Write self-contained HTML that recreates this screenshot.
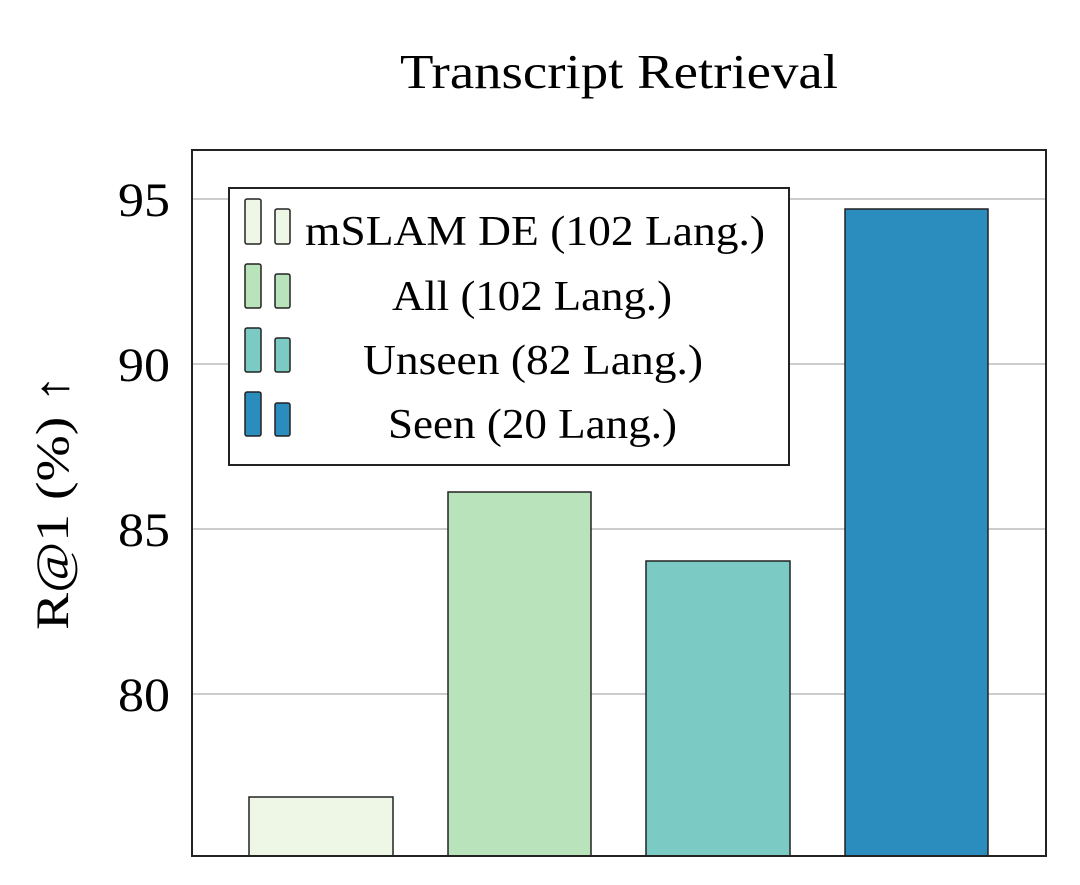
<!DOCTYPE html>
<html><head><meta charset="utf-8"><style>html,body{margin:0;padding:0;background:#fff}svg{display:block}</style></head>
<body>
<svg width="1080" height="885" viewBox="0 0 1080 885" xmlns="http://www.w3.org/2000/svg" font-family="Liberation Serif, serif">
<rect width="1080" height="885" fill="#fff"/>
<text x="400" y="88" font-size="49" textLength="438" lengthAdjust="spacingAndGlyphs">Transcript Retrieval</text>
<g stroke="#bbb" stroke-width="1.5">
<line x1="192" y1="199" x2="1046" y2="199"/>
<line x1="192" y1="364" x2="1046" y2="364"/>
<line x1="192" y1="529" x2="1046" y2="529"/>
<line x1="192" y1="694" x2="1046" y2="694"/>
</g>
<g stroke="#222" stroke-width="1.5">
<rect x="249" y="797" width="144" height="59" fill="#eef7e6"/>
<rect x="448" y="492" width="143" height="364" fill="#b9e3bb"/>
<rect x="646" y="561" width="144" height="295" fill="#7bcbc4"/>
<rect x="845" y="209" width="143" height="647" fill="#2b8cbe"/>
</g>
<rect x="192" y="150" width="854" height="706" fill="none" stroke="#222" stroke-width="2"/>
<g font-size="48">
<text x="118" y="216" textLength="52" lengthAdjust="spacingAndGlyphs">95</text>
<text x="118" y="381" textLength="52" lengthAdjust="spacingAndGlyphs">90</text>
<text x="118" y="546" textLength="52" lengthAdjust="spacingAndGlyphs">85</text>
<text x="118" y="711" textLength="52" lengthAdjust="spacingAndGlyphs">80</text>
</g>
<text transform="translate(68,630) rotate(-90)" font-size="47" textLength="255" lengthAdjust="spacingAndGlyphs">R@1 (%) ↑</text>
<rect x="229" y="188" width="560" height="277" fill="#fff" stroke="#222" stroke-width="2"/>
<g stroke="#222" stroke-width="1.5">
<rect x="245" y="199" width="16" height="45" rx="2" fill="#eef7e6"/>
<rect x="275" y="209" width="15" height="35" rx="2" fill="#eef7e6"/>
<rect x="245" y="264" width="16" height="44" rx="2" fill="#b9e3bb"/>
<rect x="275" y="274" width="15" height="34" rx="2" fill="#b9e3bb"/>
<rect x="245" y="328" width="16" height="44" rx="2" fill="#7bcbc4"/>
<rect x="275" y="338" width="15" height="34" rx="2" fill="#7bcbc4"/>
<rect x="245" y="392" width="16" height="44" rx="2" fill="#2b8cbe"/>
<rect x="275" y="403" width="15" height="33" rx="2" fill="#2b8cbe"/>
</g>
<g font-size="42">
<text x="305" y="245" textLength="460" lengthAdjust="spacingAndGlyphs">mSLAM DE (102 Lang.)</text>
<text x="392" y="310" textLength="280" lengthAdjust="spacingAndGlyphs">All (102 Lang.)</text>
<text x="363" y="374" textLength="340" lengthAdjust="spacingAndGlyphs">Unseen (82 Lang.)</text>
<text x="388" y="438" textLength="289" lengthAdjust="spacingAndGlyphs">Seen (20 Lang.)</text>
</g>
</svg>
</body></html>
